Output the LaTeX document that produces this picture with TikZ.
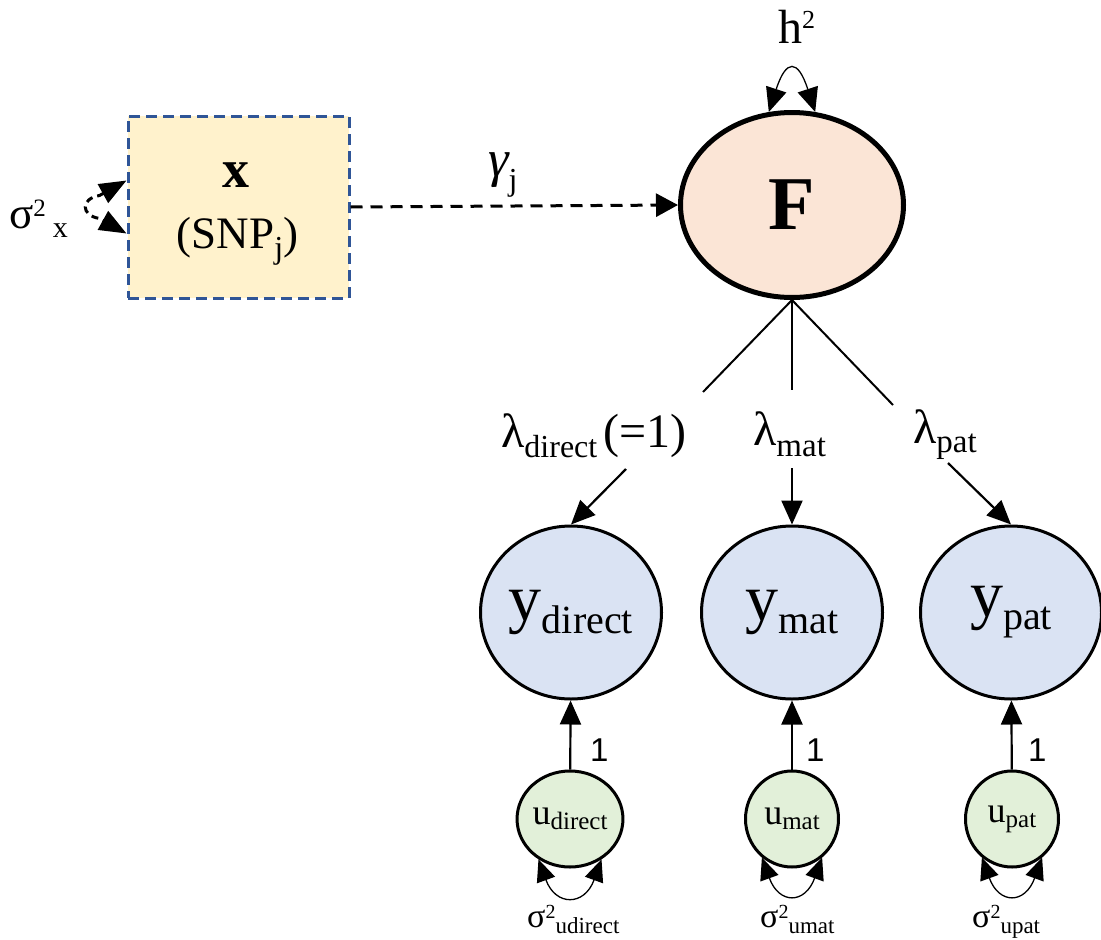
\documentclass[tikz,border=0pt]{standalone}
\usepackage{fontspec}
\setmainfont{Liberation Serif}
\newfontfamily\sansf{Liberation Sans}
\usetikzlibrary{arrows.meta,shapes.geometric}
\newcommand\fs[1]{\fontsize{#1}{#1}\selectfont}
\newcommand\mysub[3]{\raisebox{-#2pt}{\fs{#1}#3}}
\newcommand\mysup[3]{\raisebox{#2pt}{\fs{#1}#3}}
\definecolor{boxfill}{HTML}{FFF2CC}
\definecolor{boxline}{HTML}{2F5597}
\definecolor{ffill}{HTML}{FBE5D6}
\definecolor{yfill}{HTML}{DAE3F3}
\definecolor{ufill}{HTML}{E2F0D9}
\begin{document}
\begin{tikzpicture}[x=1pt,y=1pt,
  tip/.tip={Triangle[length=24pt,width=21pt]},
  stip/.tip={Triangle[length=22pt,width=19pt]},
  xbox/.style={draw=boxline, fill=boxfill, line width=3pt, dash pattern=on 11pt off 6pt, minimum width=221pt, minimum height=182pt, inner sep=0pt},
  fnode/.style={ellipse, draw, line width=5pt, fill=ffill, minimum width=223pt, minimum height=185pt, inner sep=0pt},
  ynode/.style={ellipse, draw, line width=3pt, fill=yfill, minimum width=181pt, minimum height=173pt, inner sep=0pt},
  unode/.style={ellipse, draw, line width=3pt, fill=ufill, minimum width=93pt, minimum height=96pt, inner sep=0pt},
  txt/.style={anchor=base west, inner sep=0pt},
  one/.style={anchor=base west, inner sep=0pt, font=\sansf\fs{33}},
  conn/.style={line width=2pt},
  arr/.style={line width=2.2pt, -tip},
  loopline/.style={line width=1.3pt, tip-tip},
  sloop/.style={line width=1.3pt, stip-stip},
  dasharr/.style={line width=3pt, dash pattern=on 12pt off 8pt, -{Triangle[length=22pt,width=23pt]}},
  dashloop/.style={line width=3pt, dash pattern=on 7pt off 5pt, {Triangle[length=27pt,width=21pt]}-{Triangle[length=27pt,width=21pt]}}
]
\path[use as bounding box] (0,0) rectangle (1101,-940);

% exposure box
\node[xbox] (X) at (238.5,-207) {};
\node[anchor=base, inner sep=0pt] (xl) at (236,-187) {\fs{54}\bfseries x};
\node[anchor=base, inner sep=0pt] (snp) at (237.5,-248) {\fs{45}(SNP\mysub{32}{10}{j})};
\node[txt] (sxl) at (9,-228) {\fs{45}σ\mysup{25}{12}{2}\hspace{7pt}\mysub{30}{9}{x}};
\draw[dashloop] ([yshift=26.5pt]X.west) -- ++(-27,-15) .. controls +(-19,-3) and +(-19,3) .. ++(0,-23) -- ([yshift=-26.5pt]X.west);

% factor
\node[fnode] (F) at (792,-205) {\fs{76}\bfseries F};
\node[txt] (hl) at (778,-43) {\fs{48}h\mysup{26}{15}{2}};
\draw[loopline] (F.104) .. controls +(72:56) and +(108:56) .. (F.76);

\draw[dasharr] (X.east) -- (F.west);
\node[txt] (gl) at (488,-176) {\fs{52}\itshape γ\upshape\mysub{32}{14}{j}};

% loadings
\coordinate (ed) at (703,-392);
\coordinate (em) at (792,-390);
\coordinate (ep) at (893,-405);
\draw[conn] (F.south) -- (ed);
\draw[conn] (F.south) -- (em);
\draw[conn] (F.south) -- (ep);
\node[txt] (ld) at (501,-447) {\fs{48}λ\mysub{32}{10}{direct}\hspace{6pt}(=1)};
\node[txt] (lm) at (753,-445) {\fs{48}λ\mysub{33}{11}{mat}};
\node[txt] (lp) at (913,-443) {\fs{48}λ\mysub{33}{9}{pat}};
\coordinate (sd) at (626,-469);
\coordinate (sm) at (792,-468);
\coordinate (sp) at (948,-463);

% observed
\node[ynode] (yd) at (571,-612.5) {\fs{66}y\mysub{40}{13}{direct}};
\node[ynode] (ym) at (792,-612.5) {\fs{66}y\mysub{40}{13}{mat}};
\node[ynode] (yp) at (1011,-612.5) {\fs{66}y\mysub{40}{13}{pat}};
\draw[arr] (sd) -- (yd.north);
\draw[arr] (sm) -- (ym.north);
\draw[arr] (sp) -- (yp.north);

% residuals
\node[unode] (ud) at (570,-819) {\fs{36}u\mysub{25}{5}{direct}};
\node[unode] (um) at (792,-819) {\fs{36}u\mysub{25}{5}{mat}};
\node[unode] (up) at (1012,-819) {\fs{36}u\mysub{25}{5}{pat}};
\draw[arr] (ud) -- (yd);
\draw[arr] (um) -- (ym);
\draw[arr] (up) -- (yp);
\node[one] (o1) at (590,-761) {1};
\node[one] (o2) at (806,-761) {1};
\node[one] (o3) at (1028,-761) {1};

\draw[sloop] (ud.232) .. controls +(290:50) and +(250:50) .. (ud.308);
\draw[sloop] (um.232) .. controls +(290:50) and +(250:50) .. (um.308);
\draw[sloop] (up.232) .. controls +(290:50) and +(250:50) .. (up.308);

\node[txt] (s1) at (527,-927) {\fs{34}σ\mysup{20}{9}{2}\mysub{23}{6}{udirect}};
\node[txt] (s2) at (760,-927) {\fs{34}σ\mysup{20}{9}{2}\mysub{23}{6}{umat}};
\node[txt] (s3) at (972,-927) {\fs{34}σ\mysup{20}{9}{2}\mysub{23}{6}{upat}};
\end{tikzpicture}
\end{document}
